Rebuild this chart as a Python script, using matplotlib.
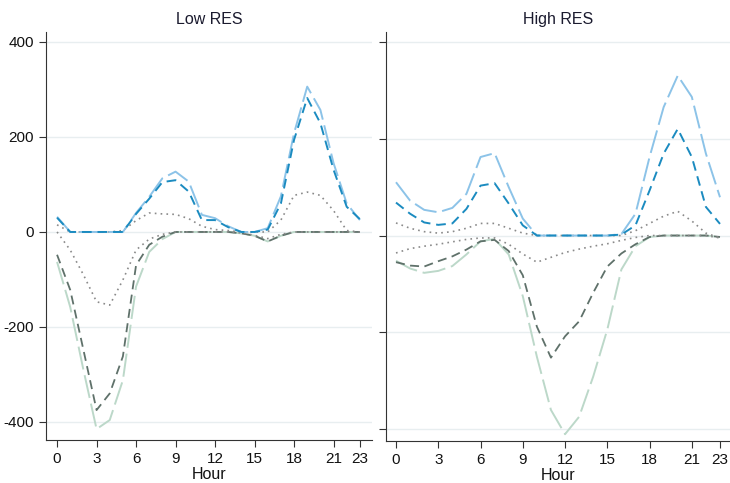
import numpy as np
import matplotlib
matplotlib.use("Agg")
import matplotlib.pyplot as plt

plt.rcParams['font.family'] = ['Liberation Sans', 'DejaVu Sans']
plt.rcParams['axes.unicode_minus'] = False

hours = np.arange(24)
xticks = [0, 3, 6, 9, 12, 15, 18, 21, 23]
yticks = [-400, -200, 0, 200, 400]
titles = ["Low RES", "High RES"]

# Low RES
low_up_total = [32, 0, 0, 0, 0, 0, 40, 74, 113, 127, 106, 36, 29, 12, 0, 0, 8, 75, 208, 306, 257, 145, 60, 25]
low_up_part = [30, 0, 0, 0, 0, 0, 38, 70, 105, 109, 85, 25, 25, 10, 0, 0, 5, 60, 194, 282, 229, 131, 53, 27]
low_up_dot = [15, 0, 0, 0, 0, 3, 24, 40, 38, 37, 28, 12, 5, 3, 0, 0, 0, 25, 77, 84, 77, 45, 3, 0]
low_dn_dot = [0, -38, -90, -147, -154, -101, -38, -15, -5, 0, 0, 0, 0, 0, -2, -7, -14, -5, 0, 0, 0, 0, 0, 0]
low_dn_part = [-48, -122, -248, -375, -340, -262, -70, -27, -10, 0, 0, 0, 0, 0, -3, -8, -20, -8, 0, 0, 0, 0, 0, 0]
low_dn_total = [-63, -158, -290, -415, -396, -312, -115, -42, -15, 0, 0, 0, 0, 0, -3, -8, -20, -8, 0, 0, 0, 0, 0, 0]

# High RES
high_up_total = [110, 72, 53, 48, 57, 86, 162, 170, 100, 35, 0, 0, 0, 0, 0, 0, 3, 45, 162, 265, 330, 286, 169, 79]
high_up_part = [68, 45, 27, 22, 25, 55, 103, 108, 66, 21, 0, 0, 0, 0, 0, 0, 2, 21, 93, 169, 220, 162, 59, 24]
high_up_dot = [26, 15, 8, 5, 8, 15, 25, 25, 15, 5, 0, 0, 0, 0, 0, 0, 0, 10, 25, 40, 50, 30, 5, -5]
high_dn_dot = [-36, -27, -22, -18, -13, -8, -5, -5, -18, -38, -55, -45, -35, -28, -22, -17, -10, -4, 0, 0, 0, 0, 0, -5]
high_dn_part = [-55, -62, -64, -53, -43, -29, -12, -9, -32, -82, -188, -252, -208, -177, -118, -64, -37, -18, -3, 0, 0, 0, 0, -3]
high_dn_total = [-52, -68, -77, -73, -63, -39, -12, -7, -39, -125, -250, -360, -410, -374, -291, -194, -70, -22, -3, 0, 0, 0, 0, -3]

panels = [
    (low_up_total, low_up_part, low_up_dot, low_dn_dot, low_dn_part, low_dn_total),
    (high_up_total, high_up_part, high_up_dot, high_dn_dot, high_dn_part, high_dn_total),
]

fig = plt.figure(figsize=(7.3, 4.83), dpi=100)
ax1 = fig.add_axes([46/730, 43/483, 326/730, 408/483])
ax2 = fig.add_axes([386/730, 42/483, 344/730, 409/483])
axes = [ax1, ax2]
xlims = [(-0.84, 23.92), (-0.71, 23.71)]
ylims = [(-438, 421), (-424, 420)]

for i, ax in enumerate(axes):
    up_t, up_p, up_d, dn_d, dn_p, dn_t = panels[i]
    for y in yticks:
        ax.axhline(y, color="#e8eef0", lw=1.0, zorder=0)
    ax.plot(hours, dn_t, color="#bcd8c9", lw=1.4, dashes=(12, 3))
    ax.plot(hours, dn_p, color="#5f716a", lw=1.3, dashes=(5, 3))
    ax.plot(hours, dn_d, color="#8a8a8a", lw=1.2, dashes=(1, 2.5))
    ax.plot(hours, up_d, color="#8a8a8a", lw=1.2, dashes=(1, 2.5))
    ax.plot(hours, up_t, color="#8cc3e8", lw=1.4, dashes=(12, 3))
    ax.plot(hours, up_p, color="#1b8bc0", lw=1.4, dashes=(5, 3))

    ax.set_xlim(*xlims[i])
    ax.set_ylim(*ylims[i])
    ax.set_xticks(xticks)
    ax.set_yticks(yticks)
    ax.spines["top"].set_visible(False)
    ax.spines["right"].set_visible(False)
    ax.spines["left"].set_color("#333333")
    ax.spines["bottom"].set_color("#333333")
    ax.tick_params(axis="both", direction="out", length=5, width=0.8,
                   color="#333333", labelsize=11, labelcolor="#111111")
    ax.set_xlabel("Hour", fontsize=11.5, labelpad=1, color="#111111")
    ax.set_title(titles[i], fontsize=11.5, pad=6, color="#1a1a2e")
    if i == 1:
        ax.tick_params(axis="y", labelleft=False)

plt.savefig("out.png", dpi=100)
